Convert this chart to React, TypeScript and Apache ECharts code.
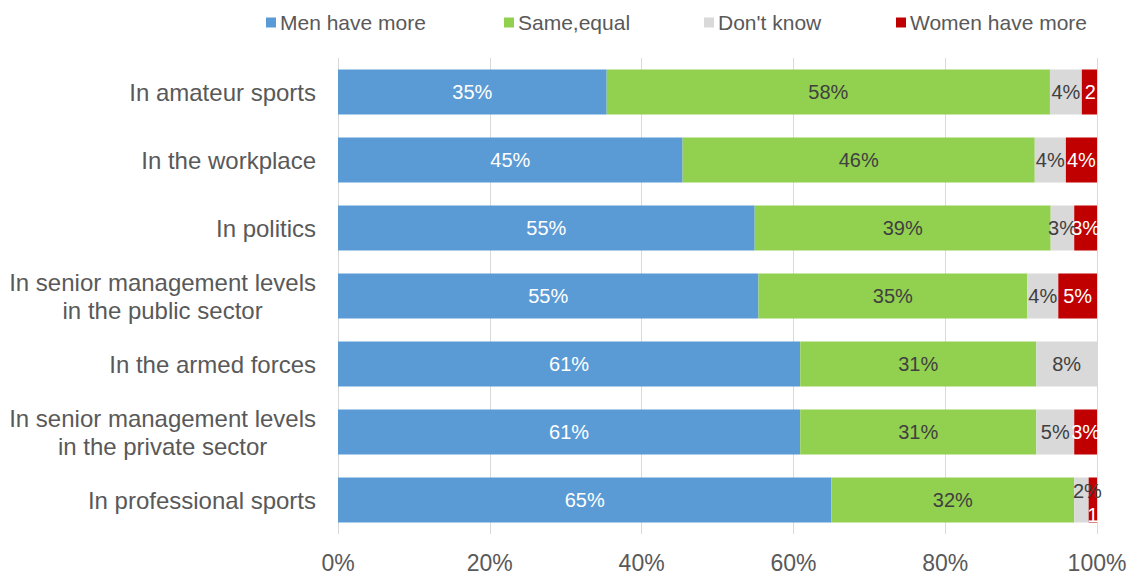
import React, { useEffect, useRef } from "react";
import * as echarts from "echarts";

const categories = [
  "In amateur sports",
  "In the workplace",
  "In politics",
  "In senior management levels\nin the public sector",
  "In the armed forces",
  "In senior management levels\nin the private sector",
  "In professional sports",
];
const seriesNames = ["Men have more", "Same,equal", "Don't know", "Women have more"];
const menHaveMore = [35.4, 45.4, 54.9, 55.4, 60.9, 60.9, 65.0];
const sameEqual = [58.4, 46.4, 39.0, 35.4, 31.1, 31.1, 32.0];
const dontKnow = [4.2, 4.1, 3.1, 4.1, 8.0, 5.0, 1.9];
const womenHaveMore = [2.0, 4.1, 3.0, 5.1, 0, 3.0, 1.1];
const xTicks = [0, 20, 40, 60, 80, 100];

const FONT = "'Liberation Sans', Arial, sans-serif";
const colors = ["#5B9BD5", "#92D050", "#D9D9D9", "#C00000"];
const labelColors = ["#FFFFFF", "#404040", "#404040", "#FFFFFF"];

export default function App() {
  const ref = useRef<HTMLDivElement>(null);
  useEffect(() => {
    document.body.style.margin = "0";
    const chart = echarts.init(ref.current!, null, { renderer: "svg" });
    const values = [menHaveMore, sameEqual, dontKnow, womenHaveMore];
    const numOnly = (p: any) => String(Math.round(p.value));
    // per-item label tweaks (index-based, kept out of data arrays)
    const labelOverrides: Record<string, any> = {
      "3-0": { formatter: numOnly, offset: [1, 0] },
      "2-6": { offset: [6, -9] },
      "3-6": { formatter: numOnly, offset: [0, 15] },
    };
    const series = values.map((arr, si) => ({
      name: seriesNames[si],
      type: "bar",
      stack: "total",
      barWidth: 45,
      itemStyle: { color: colors[si] },
      label: {
        show: true,
        position: "inside",
        fontSize: 20,
        fontFamily: FONT,
        color: labelColors[si],
        formatter: (p: any) => (p.value < 0.5 ? "" : Math.round(p.value) + "%"),
      },
      data: arr.map((v, i) => {
        const o = labelOverrides[si + "-" + i];
        return o ? { value: v, label: o } : v;
      }),
    }));
    const legendLefts = [266, 504, 704, 896];
    const catStyle = { fontSize: 24, lineHeight: 28, color: "#595959", fontFamily: FONT, align: "center" };
    chart.setOption({
      animation: false,
      legend: seriesNames.map((n, i) => ({
        data: [n],
        left: legendLefts[i],
        top: 12,
        padding: 0,
        itemWidth: 10,
        itemHeight: 10,
        itemGap: 4,
        icon: "rect",
        textStyle: { fontSize: 21, color: "#595959", fontFamily: FONT, padding: [0, 0, 0, -1] },
      })),
      grid: { left: 338, right: 34, top: 58, bottom: 38 },
      xAxis: {
        type: "value",
        min: xTicks[0],
        max: xTicks[xTicks.length - 1],
        interval: xTicks[1] - xTicks[0],
        axisLine: { show: false },
        axisTick: { show: false },
        splitLine: { lineStyle: { color: "#D9D9D9", width: 1 } },
        axisLabel: { formatter: "{value}%", fontSize: 23, color: "#595959", fontFamily: FONT, margin: 17 },
      },
      yAxis: {
        type: "category",
        inverse: true,
        data: categories,
        axisLine: { show: false },
        axisTick: { show: false },
        axisLabel: {
          fontSize: 24,
          lineHeight: 28,
          color: "#595959",
          fontFamily: FONT,
          margin: 22,
          align: "right",
          formatter: (v: string) =>
            v
              .split("\n")
              .map((l) => "{c|" + l + "}")
              .join("\n"),
          rich: { c: catStyle },
        },
      },
      series,
    });
    return () => chart.dispose();
  }, []);
  return <div ref={ref} style={{ width: 1131, height: 574 }} />;
}
